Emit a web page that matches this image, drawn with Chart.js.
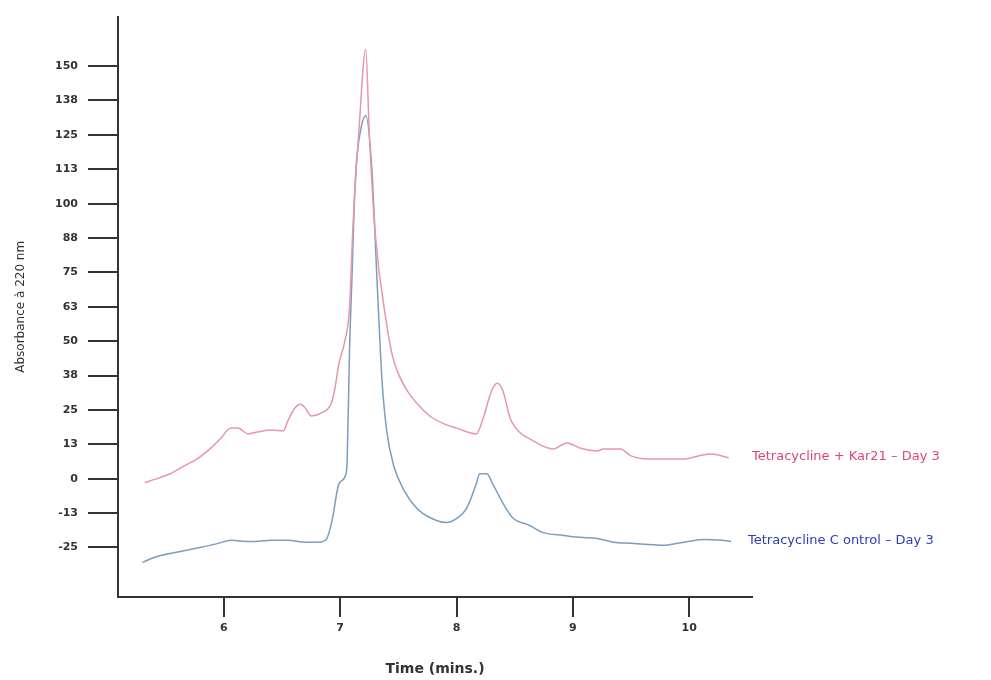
<!DOCTYPE html>
<html>
<head>
<meta charset="utf-8">
<script src="https://cdn.jsdelivr.net/npm/chart.js@4.4.1/dist/chart.umd.min.js"></script>
<style>
  body { margin: 0; background: #fff; }
  canvas { display: block; }
</style>
</head>
<body>
<canvas id="chromato" width="991" height="680"></canvas>
<script>
// Tetracycline + Kar21 - Day 3 (red)
var kar21Time = [5.32, 5.45, 5.54, 5.66, 5.77, 5.89, 5.97, 6.06, 6.12, 6.21, 6.29, 6.41, 6.51, 6.55, 6.61, 6.66, 6.70, 6.75, 6.84, 6.92, 6.95, 6.99, 7.04, 7.08, 7.11, 7.16, 7.22, 7.25, 7.30, 7.40, 7.45, 7.51, 7.59, 7.68, 7.77, 7.88, 8.00, 8.17, 8.23, 8.30, 8.35, 8.40, 8.46, 8.55, 8.63, 8.74, 8.83, 8.95, 9.06, 9.21, 9.26, 9.41, 9.50, 9.65, 9.78, 9.96, 10.08, 10.19, 10.34];
var kar21Abs = [-1.4, 0.4, 1.8, 4.7, 7.2, 11.2, 14.5, 18.4, 18.4, 16.3, 17.0, 17.7, 17.4, 21.0, 25.7, 27.1, 25.7, 22.8, 23.9, 27.1, 31.8, 42.0, 50.0, 62.0, 92.0, 125.9, 156.0, 125.8, 89.7, 56.0, 44.5, 37.2, 31.1, 26.4, 22.8, 20.2, 18.4, 16.3, 22.1, 31.8, 34.7, 31.8, 22.1, 16.6, 14.5, 11.9, 10.8, 13.0, 11.2, 10.1, 10.8, 10.8, 8.3, 7.2, 7.2, 7.2, 8.3, 9.0, 7.6];

// Tetracycline Control - Day 3 (blue)
var controlTime = [5.30, 5.43, 5.58, 5.71, 5.84, 5.95, 6.06, 6.23, 6.41, 6.55, 6.70, 6.81, 6.88, 6.93, 6.99, 7.05, 7.06, 7.08, 7.10, 7.13, 7.18, 7.22, 7.27, 7.32, 7.36, 7.40, 7.46, 7.55, 7.66, 7.77, 7.91, 8.00, 8.09, 8.17, 8.20, 8.26, 8.31, 8.40, 8.48, 8.63, 8.74, 8.92, 9.06, 9.21, 9.35, 9.50, 9.65, 9.78, 9.90, 9.99, 10.13, 10.28, 10.36];
var controlAbs = [-30.4, -28.2, -26.8, -25.7, -24.6, -23.5, -22.4, -22.8, -22.4, -22.4, -23.1, -23.1, -22.1, -15.2, -1.8, 1.8, 6.5, 46.3, 71.6, 108.8, 127.6, 132.0, 113.9, 69.1, 35.4, 17.4, 4.7, -4.3, -10.8, -14.1, -15.9, -14.5, -10.5, -1.8, 1.8, 1.8, -1.8, -9.0, -14.1, -17.0, -19.5, -20.6, -21.3, -21.7, -23.1, -23.5, -23.9, -24.2, -23.5, -22.8, -22.1, -22.4, -22.8];

var seriesNames = ['Tetracycline + Kar21 \u2013 Day 3', 'Tetracycline C ontrol \u2013 Day 3'];
var xTicks = [6, 7, 8, 9, 10];
var yTickValues = [-25, -12.5, 0, 12.5, 25, 37.5, 50, 62.5, 75, 87.5, 100, 112.5, 125, 137.5, 150];
var yTickLabels = ['-25', '-13', '0', '13', '25', '38', '50', '63', '75', '88', '100', '113', '125', '138', '150'];

function toPoints(xs, ys) {
    var pts = [];
    for (var i = 0; i < xs.length; i++) {
        pts.push({ x: xs[i], y: ys[i] });
    }
    return pts;
}

// nom de la série écrit au bout de chaque courbe
var endLabels = {
    id: 'endLabels',
    afterDatasetsDraw: function (chart) {
        var c = chart.ctx;
        c.save();
        c.font = '13px "DejaVu Sans", sans-serif';
        c.textBaseline = 'middle';
        c.textAlign = 'left';
        chart.data.datasets.forEach(function (ds, i) {
            var meta = chart.getDatasetMeta(i);
            var last = meta.data[meta.data.length - 1];
            c.fillStyle = ds.labelColor;
            c.fillText(ds.label, chart.chartArea.right + (i == 0 ? 0 : -4), last.y - 1);
        });
        c.restore();
    }
};

var data = {
    datasets: [{
        label: seriesNames[0],
        data: toPoints(kar21Time, kar21Abs),
        borderColor: 'rgb(232,150,170)',
        labelColor: 'rgb(222,70,120)',
        borderWidth: 1.5,
        pointRadius: 0,
        cubicInterpolationMode: 'monotone'
    }, {
        label: seriesNames[1],
        data: toPoints(controlTime, controlAbs),
        borderColor: 'rgb(120,158,192)',
        labelColor: 'rgb(45,60,185)',
        borderWidth: 1.5,
        pointRadius: 0,
        cubicInterpolationMode: 'monotone'
    }]
};

var option = {
    responsive: false,
    animation: false,
    layout: {
        padding: { top: 12, right: 239, bottom: 0, left: 0 }
    },
    plugins: {
        legend: false,
        tooltip: { enabled: false }
    },
    scales: {
        x: {
            type: 'linear',
            min: 5.09,
            max: 10.54,
            afterFit: function (s) { s.height = 83; },
            afterBuildTicks: function (s) {
                s.ticks = xTicks.map(function (v) { return { value: v }; });
            },
            grid: { drawOnChartArea: false, drawTicks: true, tickLength: 20, color: '#333', lineWidth: 2 },
            border: { display: true, color: '#333', width: 2 },
            ticks: {
                padding: 5,
                color: '#333',
                font: { family: '"DejaVu Sans", sans-serif', size: 11, weight: 'bold' }
            },
            title: {
                display: true,
                text: 'Time (mins.)',
                color: '#333',
                padding: { top: 0, bottom: 2 },
                font: { family: '"DejaVu Sans", sans-serif', size: 14, weight: 'bold' }
            }
        },
        y: {
            type: 'linear',
            min: -43,
            max: 168,
            afterFit: function (s) { s.width = 118; },
            afterBuildTicks: function (s) {
                s.ticks = yTickValues.map(function (v) { return { value: v }; });
            },
            grid: { drawOnChartArea: false, drawTicks: true, tickLength: 30, color: '#333', lineWidth: 2 },
            border: { display: true, color: '#333', width: 2 },
            ticks: {
                padding: 10,
                color: '#333',
                font: { family: '"DejaVu Sans", sans-serif', size: 11, weight: 'bold' },
                callback: function (value, index) { return yTickLabels[index]; }
            },
            title: {
                display: true,
                text: 'Absorbance à 220 nm',
                color: '#333',
                padding: { top: 14, bottom: 0 },
                font: { family: '"DejaVu Sans", sans-serif', size: 12 }
            }
        }
    }
};

var config = {
    type: 'line', data: data, options: option, plugins: [endLabels]
};
var graphique = new Chart(document.getElementById('chromato'), config);
</script>
</body>
</html>
